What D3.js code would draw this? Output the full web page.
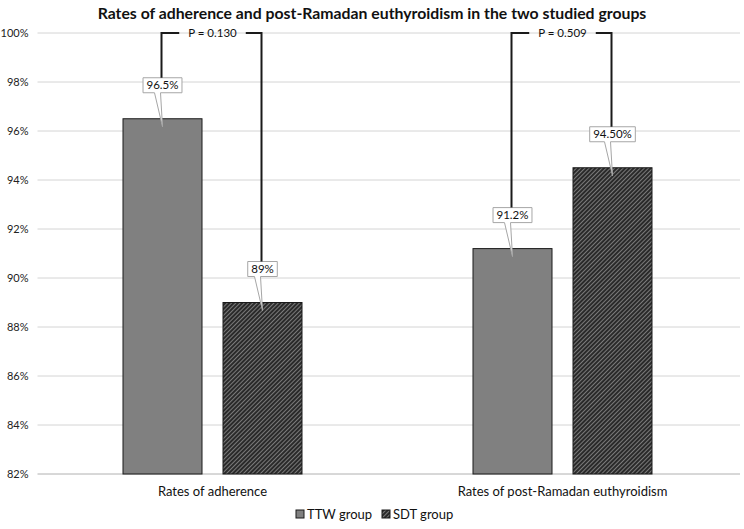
<!DOCTYPE html>
<html><head><meta charset="utf-8">
<script src="https://cdn.jsdelivr.net/npm/d3@7"></script>
<style>body{margin:0;background:#fff}svg{display:block}</style>
</head><body><svg id="c" width="744" height="529"></svg>
<script>
const title = "Rates of adherence and post-Ramadan euthyroidism in the two studied groups";
const categories = ["Rates of adherence", "Rates of post-Ramadan euthyroidism"];
const seriesNames = ["TTW group", "SDT group"];
const ttwValues = [96.5, 91.2];
const sdtValues = [89, 94.5];
const ttwLabels = ["96.5%", "91.2%"];
const sdtLabels = ["89%", "94.50%"];
const pValues = ["P = 0.130", "P = 0.509"];
const yTicks = [82, 84, 86, 88, 90, 92, 94, 96, 98, 100];

const svg = d3.select("#c");
const font = "Lato, 'DejaVu Sans', sans-serif";
const m = {l: 37.5, r: 6.5, t: 33, b: 55};
const W = 744, H = 529;

const defs = svg.append("defs");
const pat = defs.append("pattern").attr("id","hatch").attr("patternUnits","userSpaceOnUse")
  .attr("width",3).attr("height",3).attr("patternTransform","rotate(45)");
pat.append("rect").attr("width",3).attr("height",3).attr("fill","#2a2a2a");
pat.append("line").attr("x1",0).attr("y1",0).attr("x2",0).attr("y2",3).attr("stroke","#bdbdbd").attr("stroke-width",1.1);

const x0 = d3.scaleBand().domain(categories).range([m.l, W - m.r]);
const x1 = d3.scaleBand().domain(seriesNames).range([x0.bandwidth()/2 - 89.5, x0.bandwidth()/2 + 89.5]).paddingInner(0.21).paddingOuter(0);
const y = d3.scaleLinear().domain([82, 100]).range([H - m.b, m.t]);

// title
svg.append("text").attr("x", W/2).attr("y", 19).attr("text-anchor","middle")
  .attr("font-family", font).attr("font-size", 15.8).attr("font-weight","bold").attr("fill","#111").text(title);

// grid
svg.append("g").selectAll("line").data(yTicks).join("line")
  .attr("x1", m.l).attr("x2", W - 4).attr("y1", d => y(d)).attr("y2", d => y(d))
  .attr("stroke", d => d === 82 ? "#b0b0b0" : "#d4d4d4").attr("stroke-width", 1);

// y axis labels
const yAxis = d3.axisLeft(y).tickValues(yTicks).tickFormat(d => d + "%").tickSize(0).tickPadding(9);
const ga = svg.append("g").attr("transform", `translate(${m.l},0)`).call(yAxis);
ga.select(".domain").remove();
ga.selectAll("text").attr("font-family", font).attr("font-size", 11).attr("fill","#222");

// bars
const data = categories.map((c, i) => ({cat: c, vals: [
  {s: seriesNames[0], v: ttwValues[i], lab: ttwLabels[i]},
  {s: seriesNames[1], v: sdtValues[i], lab: sdtLabels[i]}]}));

const groups = svg.append("g").selectAll("g").data(data).join("g")
  .attr("transform", d => `translate(${x0(d.cat)},0)`);
groups.selectAll("rect").data(d => d.vals).join("rect")
  .attr("x", d => x1(d.s)).attr("width", x1.bandwidth())
  .attr("y", d => y(d.v)).attr("height", d => y(82) - y(d.v))
  .attr("fill", d => d.s === seriesNames[0] ? "#808080" : "url(#hatch)")
  .attr("stroke", "#1a1a1a").attr("stroke-width", 1);

// labels (callouts) and brackets
const boxH = 15, off = 26;
const lab = svg.append("g");
data.forEach((g, gi) => {
  const gx = x0(g.cat);
  const tops = [];
  g.vals.forEach(d => {
    const cx = gx + x1(d.s) + x1.bandwidth()/2;
    const bTop = y(d.v);
    const boxBottom = bTop - off;
    const path = lab.append("path");
    const t = lab.append("text").attr("x", cx).attr("y", boxBottom - 4).attr("text-anchor","middle")
      .attr("font-family", font).attr("font-size", 11.5).attr("fill","#111").text(d.lab);
    const w = t.node().getComputedTextLength() + 7;
    path.attr("d", `M${cx - w/2},${boxBottom - boxH}H${cx + w/2}V${boxBottom}H${cx - 2}L${cx},${bTop + 8}L${cx - 8},${boxBottom}H${cx - w/2}Z`)
      .attr("fill","#fff").attr("stroke","#a6a6a6").attr("stroke-width",1);
    tops.push({cx, top: boxBottom - boxH});
  });
  const yb = y(100);
  const gc = gx + x0.bandwidth()/2;
  const pt = lab.append("text").attr("x", gc).attr("y", yb + 4).attr("text-anchor","middle")
    .attr("font-family", font).attr("font-size", 11.5).attr("fill","#111").text(pValues[gi]);
  const pw = pt.node().getComputedTextLength();
  const gap = pw/2 + 9;
  lab.append("path")
    .attr("d", `M${tops[0].cx - 1},${tops[0].top}V${yb}H${gc - gap}M${gc + gap},${yb}H${tops[1].cx - 1}V${tops[1].top}`)
    .attr("fill","none").attr("stroke","#1a1a1a").attr("stroke-width",2);
});

// category labels
svg.append("g").selectAll("text").data(categories).join("text")
  .attr("x", d => x0(d) + x0.bandwidth()/2).attr("y", 496).attr("text-anchor","middle")
  .attr("font-family", font).attr("font-size", 13).attr("fill","#111").text(d => d);

// legend
const leg = svg.append("g");
const legX = [296, 382];
seriesNames.forEach((s, i) => {
  leg.append("rect").attr("x", legX[i]).attr("y", 510).attr("width", 8).attr("height", 8)
    .attr("fill", i === 0 ? "#808080" : "url(#hatch)").attr("stroke","#1a1a1a").attr("stroke-width",1);
  leg.append("text").attr("x", legX[i] + 11).attr("y", 518.5).attr("font-family", font)
    .attr("font-size", 13).attr("fill","#111").text(s);
});
</script></body></html>
